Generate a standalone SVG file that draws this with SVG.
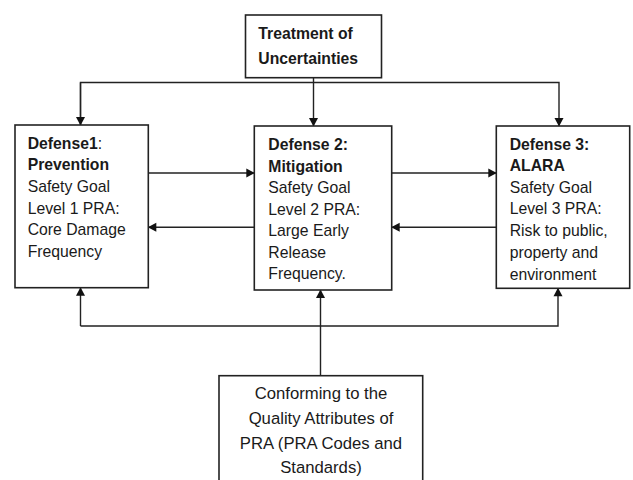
<svg xmlns="http://www.w3.org/2000/svg" width="633" height="480" viewBox="0 0 633 480">
<style>
.box{fill:#fff;stroke:#222;stroke-width:1.6}
.t{font-family:"Liberation Sans",Arial,sans-serif;font-size:15.75px;fill:#1a1a1a}
.b{font-weight:bold}
.bt{font-family:"Liberation Sans",Arial,sans-serif;font-size:16.7px;fill:#1a1a1a;text-anchor:middle}
.c{fill:none;stroke:#222;stroke-width:1.4}
</style>
<defs>
<marker id="ah" markerUnits="userSpaceOnUse" markerWidth="10" markerHeight="10" viewBox="0 0 10 10" refX="9" refY="5" orient="auto">
<path d="M1,0.5 L9.5,5 L1,9.5 Z" fill="#111"/>
</marker>
</defs>
<rect width="633" height="480" fill="#fff"/>
<g id="connectors">
<polyline class="c" points="80.5,125 80.5,82.5 559,82.5 559,126" marker-end="url(#ah)"/>
<line class="c" x1="80.5" y1="82.5" x2="80.5" y2="125" marker-end="url(#ah)"/>
<line class="c" x1="313.5" y1="77.7" x2="313.5" y2="126" marker-end="url(#ah)"/>
<line class="c" x1="148.3" y1="173" x2="254.3" y2="173" marker-end="url(#ah)"/>
<line class="c" x1="254.3" y1="227.3" x2="148.3" y2="227.3" marker-end="url(#ah)"/>
<line class="c" x1="391.7" y1="173" x2="496.3" y2="173" marker-end="url(#ah)"/>
<line class="c" x1="496.3" y1="227.3" x2="391.7" y2="227.3" marker-end="url(#ah)"/>
<polyline class="c" points="80.5,326 558,326 558,288.3" marker-end="url(#ah)"/>
<line class="c" x1="80.5" y1="326" x2="80.5" y2="287.7" marker-end="url(#ah)"/>
<line class="c" x1="320.5" y1="375.7" x2="320.5" y2="290" marker-end="url(#ah)"/>
</g>
<g id="treatment">
<rect class="box" x="245.5" y="15" width="136" height="62.7"/>
<text class="t b" x="258.3" y="39.3">Treatment of</text>
<text class="t b" x="258.3" y="64">Uncertainties</text>
</g>
<g id="defense1">
<rect class="box" x="15" y="125" width="133.3" height="162.7"/>
<text class="t" x="27.7" y="149.3"><tspan class="b">Defense1</tspan>:</text>
<text class="t b" x="27.7" y="170">Prevention</text>
<text class="t" x="27.7" y="192.3">Safety Goal</text>
<text class="t" x="27.7" y="213.8">Level 1 PRA:</text>
<text class="t" x="27.7" y="235.3">Core Damage</text>
<text class="t" x="27.7" y="256.8">Frequency</text>
</g>
<g id="defense2">
<rect class="box" x="254.3" y="126" width="137.4" height="164"/>
<text class="t b" x="268.3" y="150">Defense 2:</text>
<text class="t b" x="268.3" y="171.5">Mitigation</text>
<text class="t" x="268.3" y="193">Safety Goal</text>
<text class="t" x="268.3" y="214.5">Level 2 PRA:</text>
<text class="t" x="268.3" y="236">Large Early</text>
<text class="t" x="268.3" y="257.5">Release</text>
<text class="t" x="268.3" y="279">Frequency.</text>
</g>
<g id="defense3">
<rect class="box" x="496.3" y="126" width="133.4" height="162.3"/>
<text class="t b" x="509.7" y="149.5">Defense 3:</text>
<text class="t b" x="509.7" y="170.5">ALARA</text>
<text class="t" x="509.7" y="192.5">Safety Goal</text>
<text class="t" x="509.7" y="214">Level 3 PRA:</text>
<text class="t" x="509.7" y="236">Risk to public,</text>
<text class="t" x="509.7" y="257.5">property and</text>
<text class="t" x="509.7" y="279.5">environment</text>
</g>
<g id="conforming">
<rect class="box" x="219" y="375.7" width="203.7" height="120"/>
<text class="bt" x="321" y="399.3">Conforming to the</text>
<text class="bt" x="321" y="424">Quality Attributes of</text>
<text class="bt" x="321" y="448.5">PRA (PRA Codes and</text>
<text class="bt" x="321" y="473.2">Standards)</text>
</g>
</svg>
